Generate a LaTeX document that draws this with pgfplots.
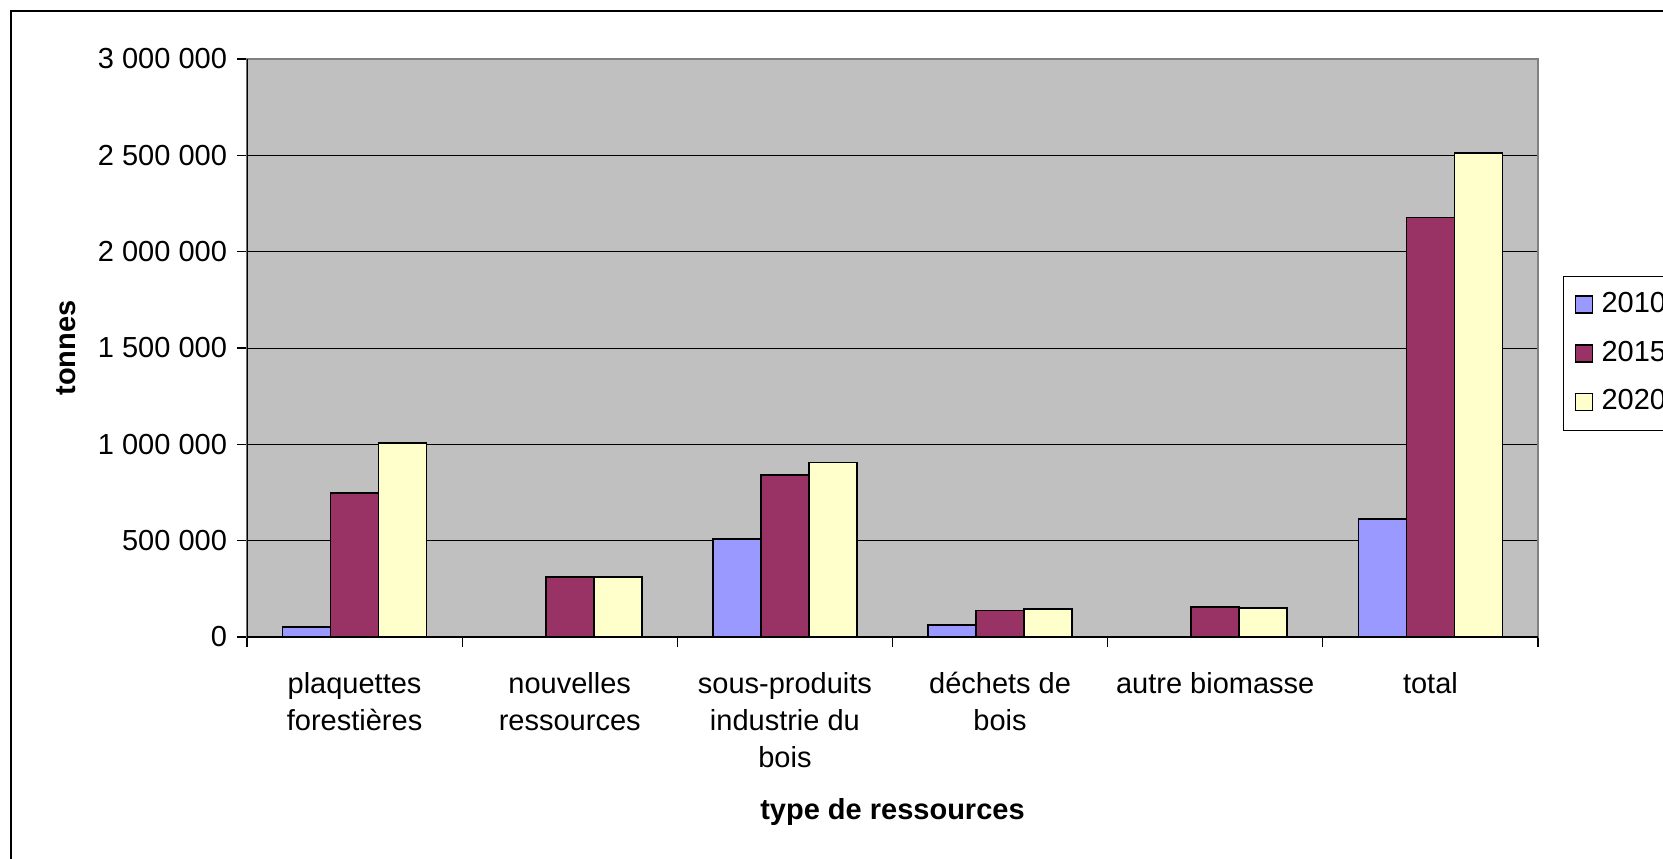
\documentclass[border=0pt]{standalone}
\usepackage{pgfplots}
\pgfplotsset{compat=1.18}
\usepackage{fontspec}
\setmainfont{Liberation Sans}
\definecolor{cA}{HTML}{9999FF}
\definecolor{cB}{HTML}{993366}
\definecolor{cC}{HTML}{FFFFCC}
\definecolor{bg}{HTML}{C0C0C0}
\definecolor{bord}{HTML}{808080}
\begin{document}
\fontsize{14.5}{18.5}\selectfont
\begin{tikzpicture}
\useasboundingbox (-123.5pt,-110.5pt) rectangle (708pt,318.5pt);
\draw[line width=1pt] (-118pt,313pt) rectangle (760pt,-140pt);
\begin{axis}[
  at={(0,0)}, anchor=south west,
  scale only axis, width=645.5pt, height=289pt,
  ybar=0pt, bar width=24pt,
  every axis plot/.append style={draw=black, line width=0.8pt},
  every axis plot/.append style={legend image code/.code={\draw[##1, line width=0.8pt] (3pt,-4.25pt) rectangle (11.5pt,4.25pt); \path[draw=none, fill=none] (0pt,0pt) -- (14pt,0pt);}},
  xmin=-0.5, xmax=5.5, ymin=0, ymax=3000000,
  scaled y ticks=false,
  axis background/.style={fill=bg},
  axis line style={draw=bord, line width=0.8pt},
  tick align=outside, major tick length=5pt,
  xtick pos=bottom, ytick pos=left,
  tick style={black, line width=0.6pt},
  ytick={0,500000,1000000,1500000,2000000,2500000,3000000},
  yticklabels={0,{500 000},{1 000 000},{1 500 000},{2 000 000},{2 500 000},{3 000 000}},
  ymajorgrids, grid style={black, line width=0.5pt},
  xtick={-0.5,0.5,1.5,2.5,3.5,4.5,5.5}, xticklabels={},
  extra x ticks={0,1,2,3,4,5},
  extra x tick labels={{plaquettes\\forestières},{nouvelles\\ressources},{sous-produits\\industrie du\\bois},{déchets de\\bois},{autre biomasse},{total}},
  extra x tick style={major tick length=0pt, tick label style={align=center, yshift=-12.5pt}},
  xlabel={\bfseries type de ressources},
  ylabel={\bfseries tonnes},
  xlabel style={at={(axis description cs:0.5,-0.3028)}, anchor=center},
  ylabel style={at={(axis description cs:-0.140,0.5)}, anchor=center},
  legend style={at={(1.0194,0.6246)}, anchor=north west, draw=black, fill=white, line width=0.5pt, row sep=8pt, inner ysep=6pt, font=\fontsize{14.5}{18.5}\selectfont},
  legend cell align=left,
]
\addplot[fill=cA] coordinates {(0,52000) (2,509000) (3,62000) (5,612000)};
\addplot[fill=cB] coordinates {(0,747000) (1,311000) (2,841000) (3,137000) (4,156000) (5,2178000)};
\addplot[fill=cC] coordinates {(0,1007000) (1,311000) (2,906000) (3,145000) (4,152000) (5,2511000)};
\legend{2010,2015,2020}
\draw[black, line width=1pt] (rel axis cs:0,1) -- (rel axis cs:0,0) -- (rel axis cs:1,0);
\end{axis}
\end{tikzpicture}
\end{document}
